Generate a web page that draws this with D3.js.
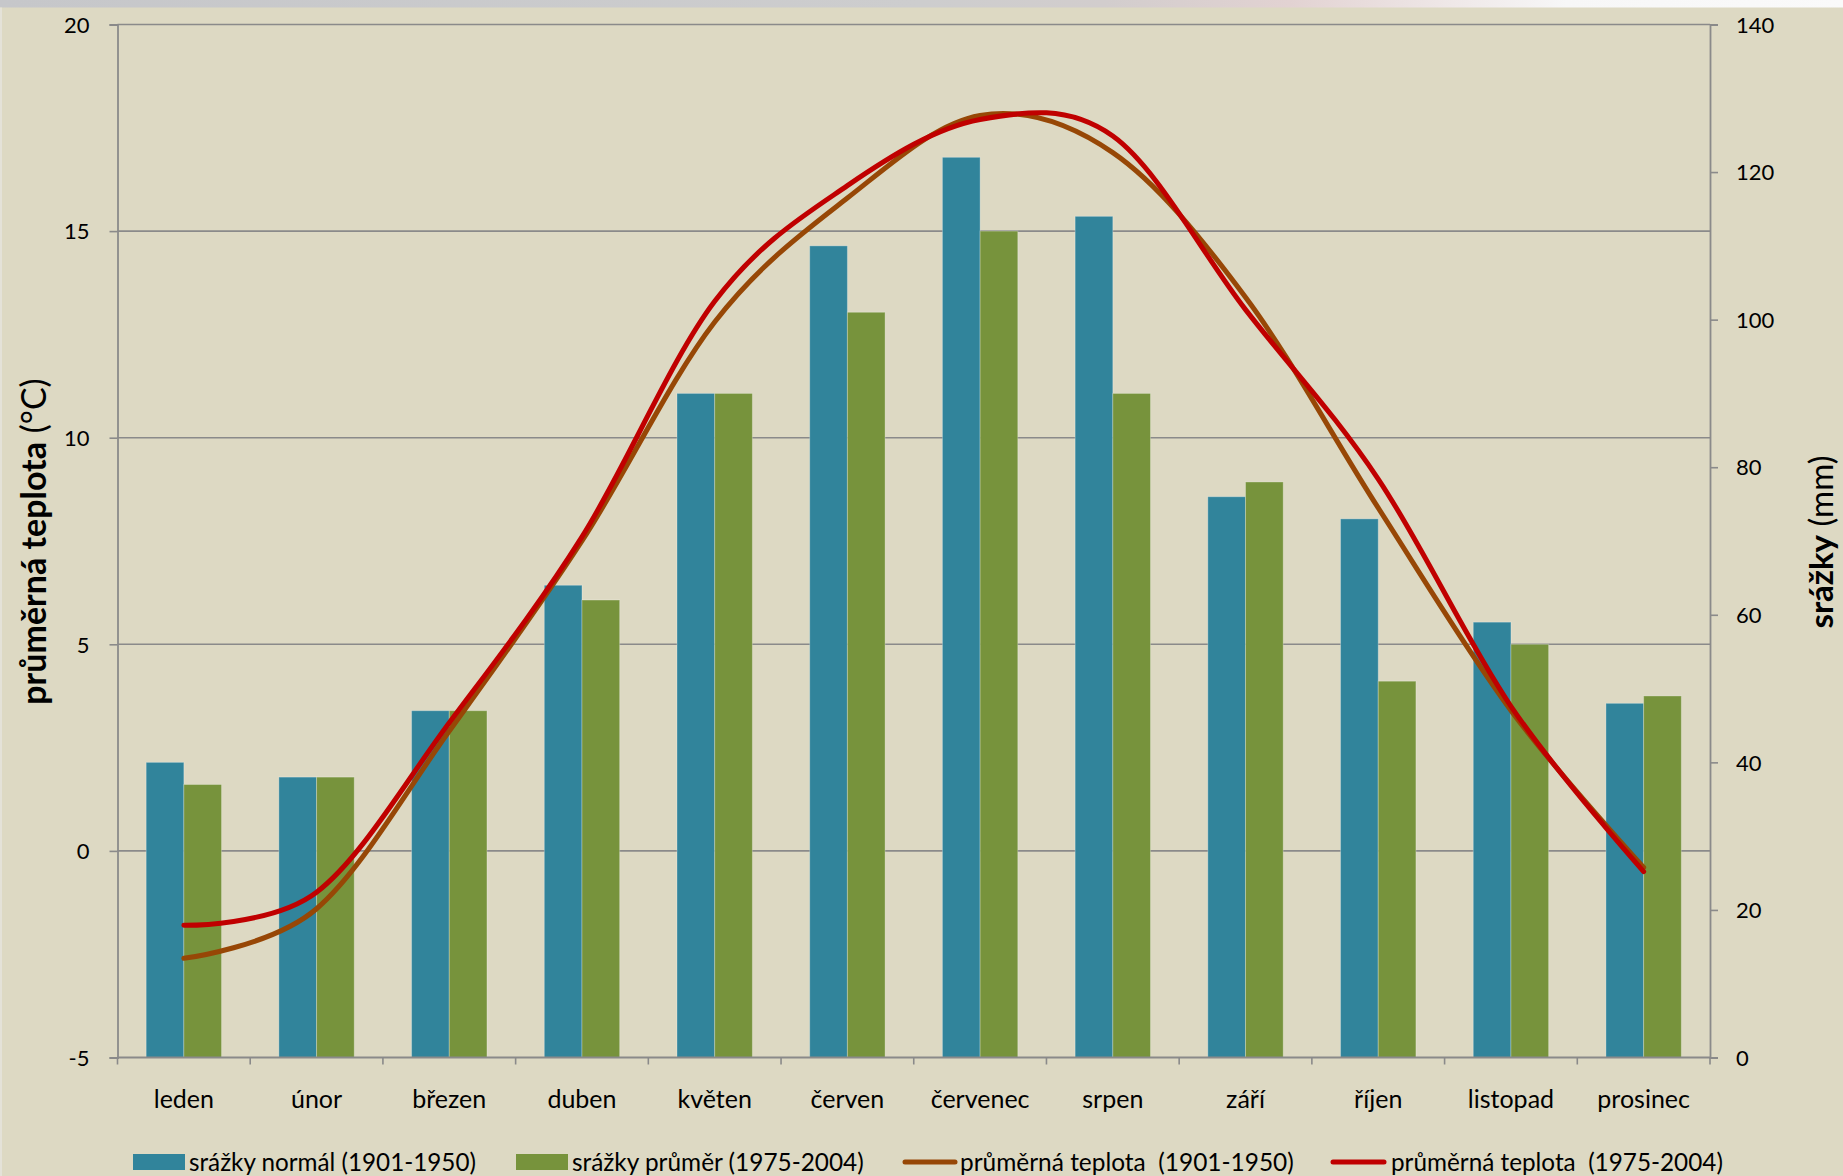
<!DOCTYPE html>
<html><head><meta charset="utf-8">
<script src="https://cdn.jsdelivr.net/npm/d3@7"></script>
<style>
html,body{margin:0;padding:0;background:#DDD9C3;}
svg{display:block;font-family:Lato,"Open Sans",sans-serif;}
</style></head>
<body>
<script>
// ---- data ----
const months = ["leden","únor","březen","duben","květen","červen","červenec","srpen","září","říjen","listopad","prosinec"];
const rainNormal = [40,38,47,64,90,110,122,114,76,73,59,48];   // srážky normál (1901-1950), mm
const rainAverage = [37,38,47,62,90,101,112,90,78,51,56,49];   // srážky průměr (1975-2004), mm
const tempOld = [-2.6,-1.4,2.9,7.5,12.8,15.8,17.8,16.9,13.4,8.3,3.4,-0.4]; // průměrná teplota (1901-1950)
const tempNew = [-1.8,-1.0,3.1,7.6,13.3,16.1,17.7,17.3,13.1,9.0,3.5,-0.5]; // průměrná teplota (1975-2004)
const tempTicks = [-5,0,5,10,15,20];
const rainTicks = [0,20,40,60,80,100,120,140];
const seriesNames = ["srážky normál (1901-1950)","srážky průměr (1975-2004)","průměrná teplota  (1901-1950)","průměrná teplota  (1975-2004)"];

// ---- layout ----
const W = 1843, H = 1176;
const L = 117.5, R = 1710, T = 24.5, B = 1057.5;
const C = {bg:"#DDD9C3", blue:"#31849B", green:"#77933C", brown:"#974706", red:"#C00000", grid:"#8A8A8A"};

const svg = d3.select("body").append("svg").attr("width",W).attr("height",H);

// background
const defs = svg.append("defs");
const g1 = defs.append("linearGradient").attr("id","topstrip");
[[0,"#c6c7ca"],[0.5,"#cdcdce"],[0.6,"#d2cdcd"],[0.7,"#e2d2d2"],[0.78,"#eee6e6"],[0.85,"#f7f7f7"],[1,"#fafafa"]]
  .forEach(([o,c])=>g1.append("stop").attr("offset",o).attr("stop-color",c));
svg.append("rect").attr("width",W).attr("height",H).attr("fill",C.bg);
svg.append("rect").attr("width",W).attr("height",7.5).attr("fill","url(#topstrip)");
svg.append("rect").attr("y",7.5).attr("width",2).attr("height",H).attr("fill","#e4e2d8");

// scales
const x = d3.scaleBand().domain(months).range([L,R]).padding(0);
const bw = x.bandwidth();
const x1 = d3.scaleBand().domain([0,1]).range([bw*0.216, bw*0.784]).padding(0);
const yT = d3.scaleLinear().domain([-5,20]).range([B,T]);
const yR = d3.scaleLinear().domain([0,140]).range([B,T]);

// gridlines (left major ticks)
svg.append("g").selectAll("line").data(tempTicks.filter(d=>d>-5)).join("line")
  .attr("x1",L).attr("x2",R).attr("y1",d=>yT(d)).attr("y2",d=>yT(d))
  .attr("stroke",C.grid).attr("stroke-width",1.6);

// bars
const barData = months.map((m,i)=>[{m,k:0,v:rainNormal[i]},{m,k:1,v:rainAverage[i]}]).flat();
svg.append("g").selectAll("rect").data(barData).join("rect")
  .attr("x",d=>x(d.m)+x1(d.k)).attr("width",x1.bandwidth())
  .attr("y",d=>yR(d.v)).attr("height",d=>yR(0)-yR(d.v))
  .attr("fill",d=>d.k?C.green:C.blue)
  .attr("stroke","#ffffff").attr("stroke-opacity",0.28).attr("stroke-width",1);

// axes
const font = "Lato";
const axL = svg.append("g").attr("transform",`translate(${L},0)`)
  .call(d3.axisLeft(yT).tickValues(tempTicks).tickSize(8).tickPadding(20).tickFormat(d=>String(d)));
const axR = svg.append("g").attr("transform",`translate(${R},0)`)
  .call(d3.axisRight(yR).tickValues(rainTicks).tickSize(8).tickPadding(18).tickFormat(d=>String(d)));
const axB = svg.append("g").attr("transform",`translate(0,${B})`)
  .call(d3.axisBottom(x).tickSize(0).tickPadding(42));
[axL,axR,axB].forEach(a=>{
  a.select(".domain").attr("stroke",C.grid).attr("stroke-width",1.8);
  a.selectAll(".tick line").attr("stroke",C.grid).attr("stroke-width",1.6);
  a.selectAll("text").attr("fill","#000").attr("font-family",font);
});
axL.selectAll("text").attr("font-size",22).attr("dy","0.35em");
axR.selectAll("text").attr("font-size",22).attr("dy","0.35em");
axB.selectAll("text").attr("font-size",25).attr("dy","0.35em");
axB.select(".domain").attr("d",`M${L},0H${R}`);
// category boundary ticks
const bounds = months.map(m=>x(m)).concat([R]);
svg.append("g").selectAll("line").data(bounds).join("line")
  .attr("x1",d=>d).attr("x2",d=>d).attr("y1",B).attr("y2",B+7)
  .attr("stroke",C.grid).attr("stroke-width",1.6);

// temperature lines
const line = d3.line().x((d,i)=>x(months[i])+bw/2).y(d=>yT(d)).curve(d3.curveCardinal.tension(0));
svg.append("path").attr("d",line(tempOld)).attr("fill","none").attr("stroke",C.brown)
  .attr("stroke-width",5).attr("stroke-linecap","round").attr("stroke-linejoin","round");
svg.append("path").attr("d",line(tempNew)).attr("fill","none").attr("stroke",C.red)
  .attr("stroke-width",5).attr("stroke-linecap","round").attr("stroke-linejoin","round");

function fit(sel, target, maxFs){
  const n = sel.node(); const fs = +sel.attr("font-size");
  const w = n.getComputedTextLength();
  sel.attr("font-size", Math.min(maxFs||999, fs*target/w));
}

// axis titles
const tl = svg.append("text").attr("transform","translate(32,541.5) rotate(-90)")
  .attr("text-anchor","middle").attr("dominant-baseline","central")
  .attr("font-family",font).attr("font-size",26).attr("fill","#000");
tl.append("tspan").attr("font-weight","bold").text("průměrná teplota");
tl.append("tspan").text(" (°C)");
fit(tl,335,34);
const tr = svg.append("text").attr("transform","translate(1820,542) rotate(-90)")
  .attr("text-anchor","middle").attr("dominant-baseline","central")
  .attr("font-family",font).attr("font-size",26).attr("fill","#000");
tr.append("tspan").attr("font-weight","bold").text("srážky");
tr.append("tspan").text(" (mm)");
fit(tr,184,33);

// legend
const legY = 1161;
const leg = [
  {type:"rect", color:C.blue, x0:133, x1:185, tx:189, tw:287},
  {type:"rect", color:C.green, x0:516, x1:568, tx:572, tw:292},
  {type:"line", color:C.brown, x0:903, x1:957, tx:960, tw:334},
  {type:"line", color:C.red, x0:1331, x1:1386, tx:1391, tw:332}
];
const lg = svg.append("g");
leg.forEach((d,i)=>{
  if(d.type==="rect"){
    lg.append("rect").attr("x",d.x0).attr("y",legY-7).attr("width",d.x1-d.x0).attr("height",16).attr("fill",d.color);
  } else {
    lg.append("line").attr("x1",d.x0+2).attr("x2",d.x1-2).attr("y1",legY+1).attr("y2",legY+1)
      .attr("stroke",d.color).attr("stroke-width",5).attr("stroke-linecap","round");
  }
  const t = lg.append("text").attr("x",d.tx).attr("y",legY).attr("dominant-baseline","central")
    .attr("font-family",font).attr("font-size",23).attr("fill","#000")
    .style("white-space","pre").text(seriesNames[i]);
  fit(t,d.tw,25);
});
</script>
</body></html>
